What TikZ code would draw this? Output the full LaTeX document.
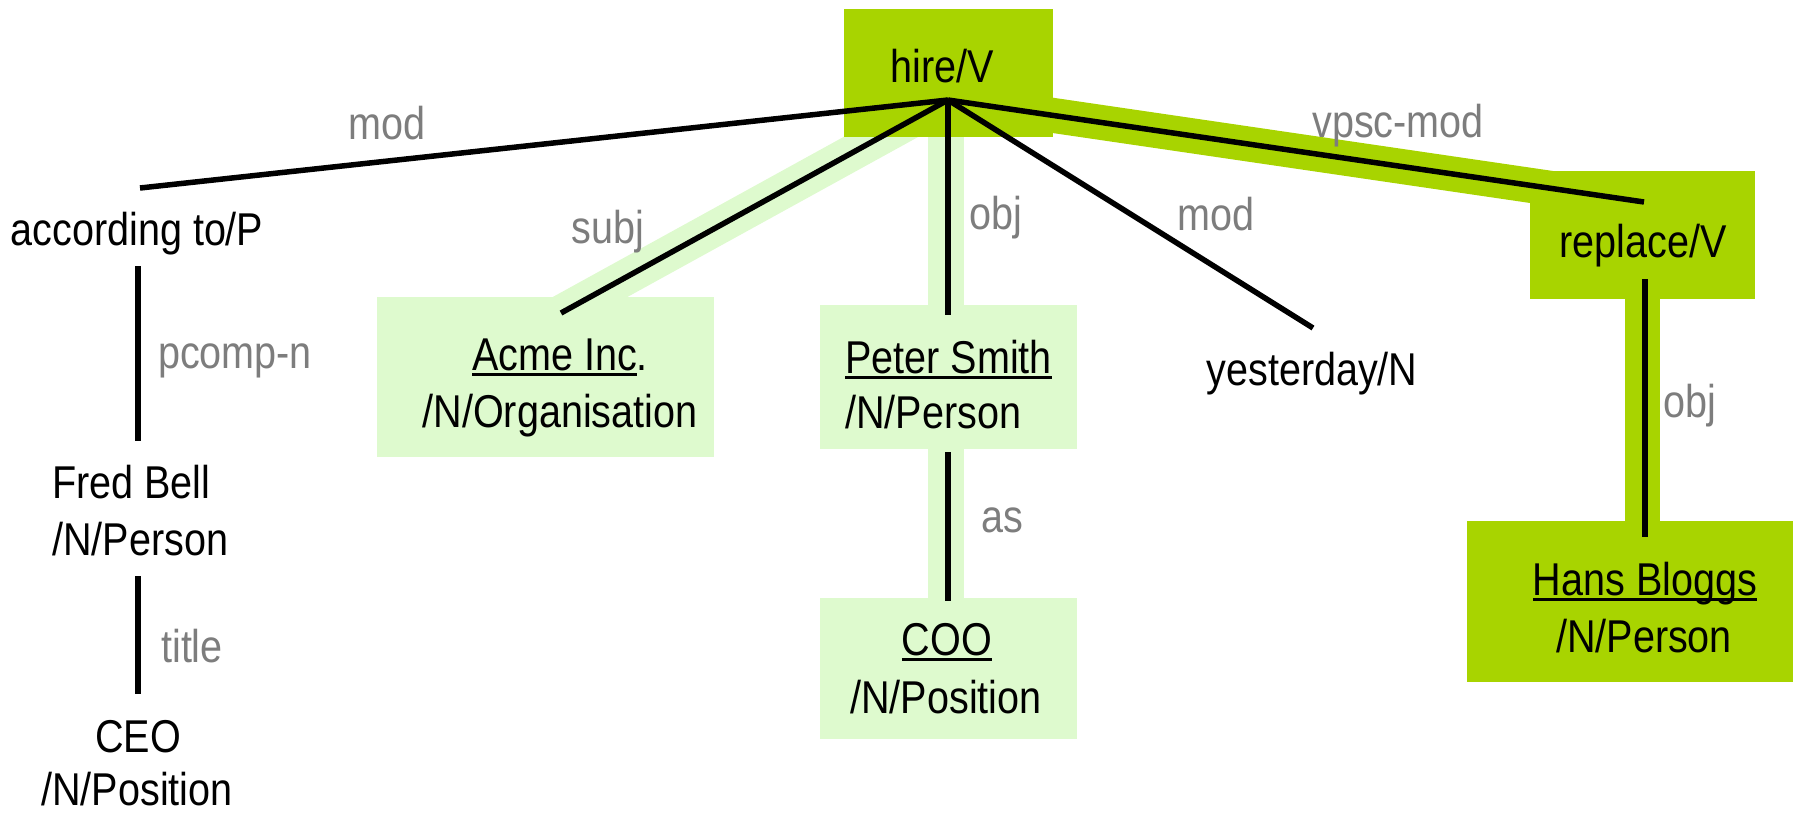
\documentclass[tikz,border=0pt]{standalone}
\usepackage{fontspec}
\setmainfont{Liberation Sans}[FakeStretch=0.86]
\usetikzlibrary{calc}
\definecolor{dk}{RGB}{168,212,0}
\definecolor{lt}{RGB}{222,250,206}
\definecolor{lbl}{RGB}{125,125,125}
\newcommand\ulx[1]{\setbox0\hbox{#1}\rlap{\rule[-6pt]{\wd0}{2.8pt}}\box0}
\begin{document}
\begin{tikzpicture}[x=1pt,y=-1pt,
  txt/.style={inner sep=0pt, anchor=base, font=\fontsize{46}{55}\selectfont},
  txtw/.style={txt, anchor=base west},
  lab/.style={txt, text=lbl},
  box/.style={draw=none, inner sep=0pt, outer sep=0pt, anchor=north west},
  dkbox/.style={box, fill=dk},
  ltbox/.style={box, fill=lt},
  edge/.style={line width=5.5pt, black},
  bandL/.style={line width=36pt, lt},
  bandD/.style={line width=35pt, dk}]
\useasboundingbox (0,0) rectangle (1793,812);
% connector end points
\coordinate (hub) at (948,100);
\coordinate (accEnd) at (140,188);
\coordinate (acmeEnd) at (561,313);
\coordinate (peterEnd) at (948,315);
\coordinate (yestEnd) at (1313,328);
\coordinate (replEnd) at (1644,202);
\coordinate (pcompA) at (138,266);
\coordinate (pcompB) at (138,441);
\coordinate (titleA) at (138,576);
\coordinate (titleB) at (138,694);
\coordinate (asA) at (948,452);
\coordinate (asB) at (948,601);
\coordinate (objA) at (1645,279);
\coordinate (objB) at (1645,537);
% highlight bands (under the boxes)
\draw[bandL] (hub) -- ($(hub)!1.08!(acmeEnd)$);
\draw[bandL] ([xshift=-2pt]hub) -- ([xshift=-2pt,yshift=-20pt]asB);
\draw[bandD] (hub) -- (replEnd);
\draw[bandD] ([xshift=-3pt]objA) -- ([xshift=-3pt,yshift=-20pt]objB);
% boxes
\node[dkbox, minimum width=209pt, minimum height=128pt] (hireBox) at (844,9) {};
\node[ltbox, minimum width=337pt, minimum height=160pt] (acmeBox) at (377,297) {};
\node[ltbox, minimum width=257pt, minimum height=144pt] (peterBox) at (820,305) {};
\node[ltbox, minimum width=257pt, minimum height=141pt] (cooBox) at (820,598) {};
\node[dkbox, minimum width=225pt, minimum height=128pt] (replBox) at (1530,171) {};
\node[dkbox, minimum width=326pt, minimum height=161pt] (hansBox) at (1467,521) {};
% connectors
\draw[edge] (hub) -- (accEnd);
\draw[edge] (hub) -- (acmeEnd);
\draw[edge] (hub) -- (peterEnd);
\draw[edge] (hub) -- (yestEnd);
\draw[edge] (hub) -- (replEnd);
\draw[edge] (pcompA) -- (pcompB);
\draw[edge] (titleA) -- (titleB);
\draw[edge] (asA) -- (asB);
\draw[edge] (objA) -- (objB);
% node texts
\node[txt] (hire) at (942,82) {hire/V};
\node[txt] (acc) at (137,245) {according to/P};
\node[txtw] (fred1) at (52,498) {Fred Bell};
\node[txtw] (fred2) at (52,555) {/N/Person};
\node[txt] (ceo1) at (138,752) {CEO};
\node[txt] (ceo2) at (137,805) {/N/Position};
\node[txt] (acme1) at (560,370) {\ulx{Acme Inc}.};
\node[txt] (acme2) at (560,427) {/N/Organisation};
\node[txtw] (peter1) at (845,373) {\ulx{Peter Smith}};
\node[txtw] (peter2) at (845,428) {/N/Person};
\node[txt] (coo1) at (947,655) {\ulx{COO}};
\node[txt] (coo2) at (946,713) {/N/Position};
\node[txt] (yest) at (1312,385) {yesterday/N};
\node[txt] (repl) at (1643,257) {replace/V};
\node[txt] (hans1) at (1645,595) {\ulx{Hans Bloggs}};
\node[txt] (hans2) at (1644,652) {/N/Person};
% edge labels
\node[lab] (lmod1) at (387,139) {mod};
\node[lab] (lsubj) at (608,243) {subj};
\node[lab] (lobj1) at (996,229) {obj};
\node[lab] (lmod2) at (1216,230) {mod};
\node[lab] (lvpsc) at (1398,137) {vpsc-mod};
\node[lab] (lpcomp) at (235,368) {pcomp-n};
\node[lab] (ltitle) at (192,662) {title};
\node[lab] (las) at (1002,532) {as};
\node[lab] (lobj2) at (1690,417) {obj};
\end{tikzpicture}
\end{document}
